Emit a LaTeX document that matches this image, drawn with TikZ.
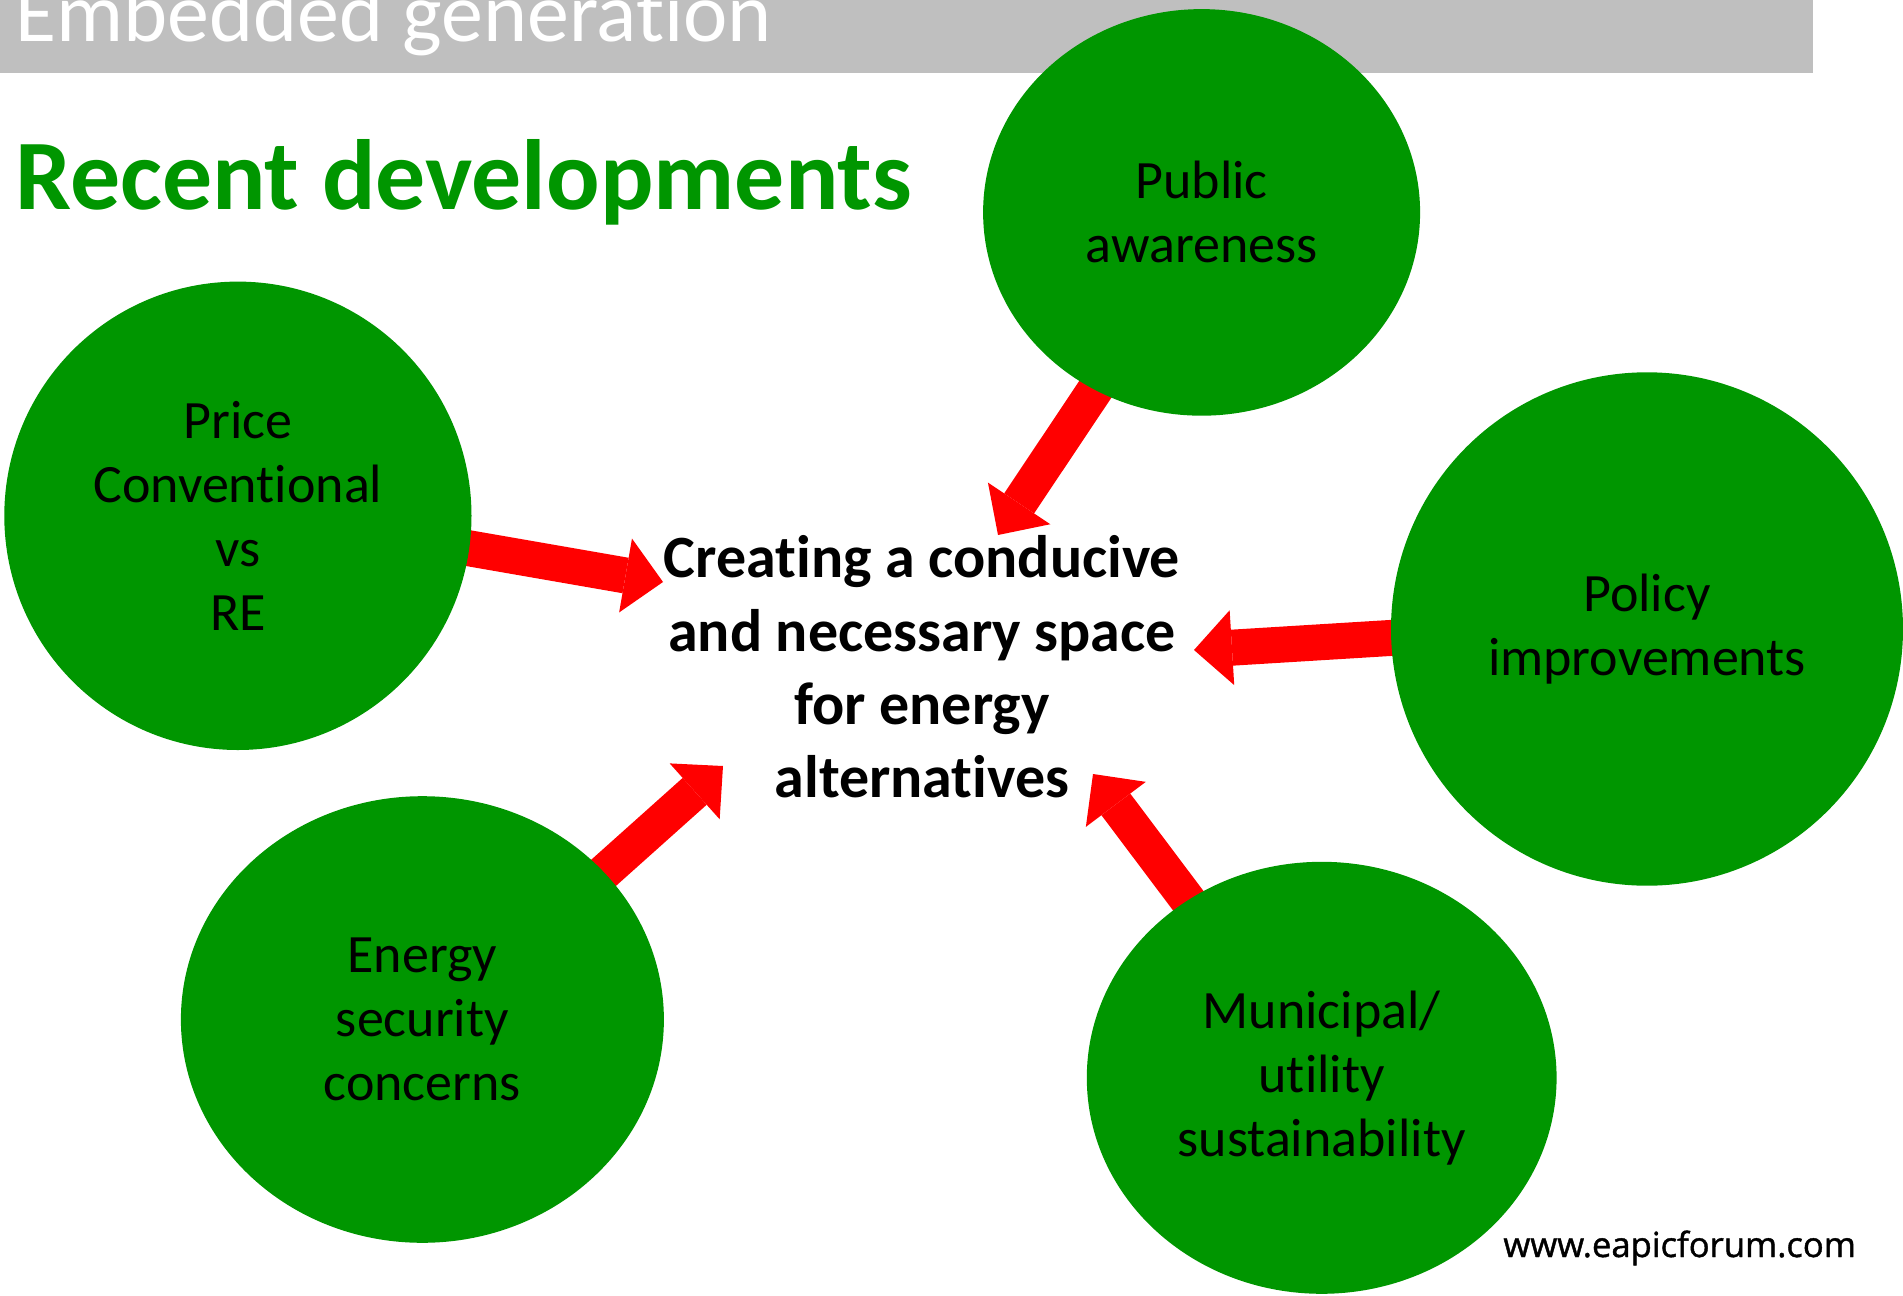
\documentclass[tikz,border=0pt]{standalone}
\usepackage{fontspec}
\setmainfont{Carlito}[RawFeature={-liga;-clig;-dlig;-calt;-rlig}]
\newfontfamily\urlfont{Open Sans}[FakeBold=1.2]
\usetikzlibrary{shapes.geometric,arrows.meta}
\definecolor{hlgreen}{RGB}{0,150,0}
\definecolor{hlred}{RGB}{255,0,0}
\definecolor{hlgrey}{RGB}{191,191,191}
\pgfdeclarelayer{back}
\pgfsetlayers{back,main}
\tikzset{
	bubble/.style={ellipse, fill=hlgreen, inner sep=0pt, outer sep=0pt, align=center, font=\fontsize{27}{32}\selectfont},
	bigarrow/.style={draw=hlred, line width=18pt, shorten <=-10pt, -{Triangle[width=37.5pt,length=19pt,line width=0pt]}}
}

\begin{document}
\begin{tikzpicture}[x=0.5pt,y=-0.5pt]
	\useasboundingbox (0,0) rectangle (1903,1296);
	
	\fill[hlgrey] (0,0) rectangle (1813,73);
	\node[anchor=base west, inner sep=0pt, text=white, font=\fontsize{42}{50}\selectfont] (head) at (15,41) {Embedded generation};
	\node[anchor=base west, inner sep=0pt, text=hlgreen, font=\bfseries\fontsize{49.9}{59}\selectfont] (title) at (15,209) {Recent developments};
	
	\node[bubble, minimum width=218.5pt, minimum height=203.3pt] (pub) at (1201.6,212.4) {Public\\awareness};
	\node[bubble, minimum width=233.6pt, minimum height=234.2pt] (price) at (237.9,515.8) {Price\\Conventional\\vs\\RE};
	\node[bubble, minimum width=256pt, minimum height=256.7pt] (policy) at (1647,629) {Policy\\improvements};
	\node[bubble, minimum width=241.5pt, minimum height=223.3pt] (energy) at (422.4,1019.5) {Energy\\security\\concerns};
	\node[bubble, minimum width=234.9pt, minimum height=216pt] (muni) at (1321.7,1077.8) {Municipal/\\utility\\sustainability};
	
	\node[align=center, inner sep=0pt, font=\bfseries\fontsize{30}{36.7}\selectfont] (goal) at (922,667) {Creating a conducive\\and necessary space\\for energy\\alternatives};
	
	\coordinate (tA) at (998,535);
	\coordinate (tB) at (663,582);
	\coordinate (tC) at (1194,650);
	\coordinate (tD) at (723,766);
	\coordinate (tE) at (1093,774);
	
	\begin{pgfonlayer}{back}
		\draw[bigarrow] (pub.239) -- (tA);
		\draw[bigarrow] (price.-8) -- (tB);
		\draw[bigarrow] (policy.182) -- (tC);
		\draw[bigarrow] (energy.39) -- (tD);
		\draw[bigarrow] (muni.127) -- (tE);
	\end{pgfonlayer}
	
	\node[anchor=base west, inner sep=0pt, font=\urlfont\fontsize{17.3}{21}\selectfont] (url) at (1503,1257) {www.eapicforum.com};
\end{tikzpicture}
\end{document}
